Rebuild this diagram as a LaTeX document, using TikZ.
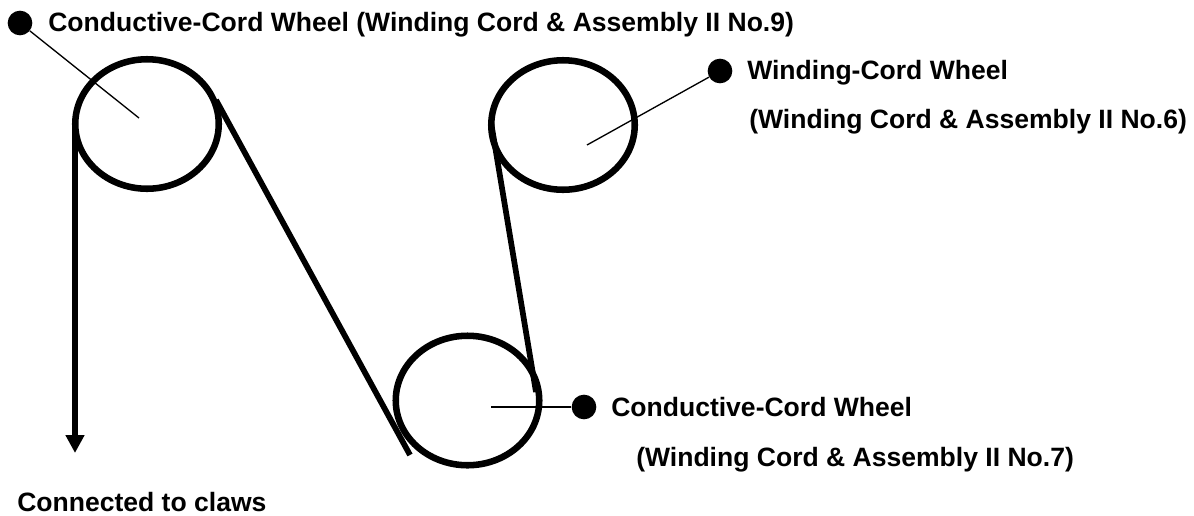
\documentclass[tikz,border=0pt]{standalone}
\usepackage{fontspec}
\setmainfont{Liberation Sans}
\usetikzlibrary{arrows.meta}
\tikzset{
    cord/.style={line width=4.3pt},
    wheel/.style={line width=4.9pt},
    leader/.style={line width=1pt},
    dot/.style={circle,fill=black,inner sep=0pt,minimum size=18.5pt},
    lbl/.style={anchor=base west,inner sep=0pt,font=\fontsize{19.9pt}{23pt}\selectfont\bfseries},
}
\begin{document}
\begin{tikzpicture}[x=0.75pt,y=0.75pt,yscale=-1,xscale=1]
    \useasboundingbox (0,0) rectangle (1194,515);

    %Shape: Wheels
    \draw [wheel] (147,124) ellipse (71.75 and 64.75);
    \draw [wheel] (563,125) ellipse (71.75 and 64.75);
    \draw [wheel] (467.5,400.5) ellipse (71.75 and 64.75);

    %Straight Lines: cord
    \coordinate (clawEnd) at (75,453);
    \coordinate (leftTop) at (75,122);
    \coordinate (slackTop) at (216,100);
    \coordinate (slackEnd) at (410,455);
    \coordinate (riseTop) at (491,122);
    \coordinate (riseEnd) at (536,392);
    \draw [cord,-{Triangle[length=18pt*0.75,width=18pt*0.75]}] (leftTop) -- (clawEnd);
    \draw [cord] (slackTop) -- (slackEnd);
    \draw [cord] (riseTop) -- (riseEnd);

    %Leaders
    \node (dotNine) [dot] at (20,23) {};
    \node (dotSix) [dot] at (720,71) {};
    \node (dotSeven) [dot] at (584,407) {};
    \coordinate (hubNine) at (139,118);
    \coordinate (hubSix) at (587,145);
    \coordinate (hubSeven) at (491,407);
    \draw [leader] (dotNine) -- (hubNine);
    \draw [leader] (dotSix) -- (hubSix);
    \draw [leader] (dotSeven) -- (hubSeven);

    % Text Node
    \node (lblNine) [lbl] at (48,31) {Conductive-Cord Wheel (Winding Cord \& Assembly II No.9)};
    % Text Node
    \node (lblSixA) [lbl] at (747,79) {Winding-Cord Wheel};
    % Text Node
    \node (lblSixB) [lbl] at (749,128) {(Winding Cord \& Assembly II No.6)};
    % Text Node
    \node (lblSevenA) [lbl] at (611,416) {Conductive-Cord Wheel};
    % Text Node
    \node (lblSevenB) [lbl] at (636,466) {(Winding Cord \& Assembly II No.7)};
    % Text Node
    \node (lblClaws) [lbl] at (17,511) {Connected to claws};
\end{tikzpicture}
\end{document}
